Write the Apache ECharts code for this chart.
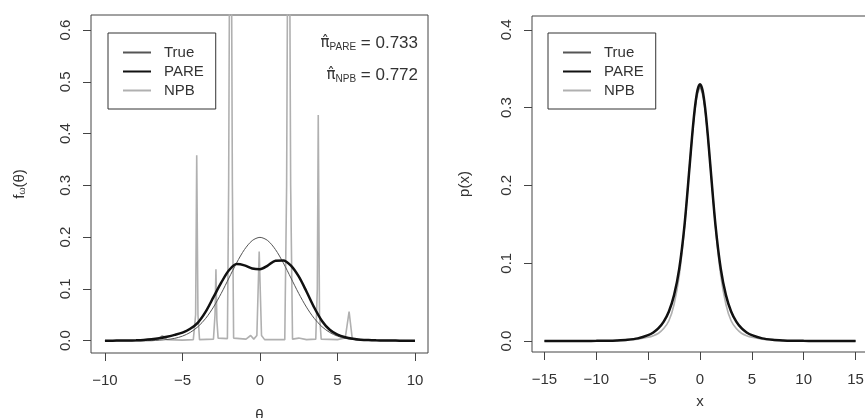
<!DOCTYPE html>
<html>
<head>
<meta charset="utf-8">
<script src="https://cdn.jsdelivr.net/npm/echarts@6/dist/echarts.min.js"></script>
<style>
html,body{margin:0;padding:0;background:#fff;}
#chart{width:865px;height:418px;}
</style>
</head>
<body>
<div id="chart"></div>
<script>
// ---------- Left panel (theta) ----------
const thetaX = [-10,-9.5,-9,-8.5,-8,-7.5,-7,-6.5,-6,-5.5,-5,-4.5,-4,-3.5,-3,-2.5,-2,-1.5,-1,-0.5,0,0.5,1,1.5,2,2.5,3,3.5,4,4.5,5,5.5,6,6.5,7,7.5,8,8.5,9,9.5,10];
const thetaTrue = [0,0,0,0,0.0001,0.0002,0.0004,0.0010,0.0022,0.0045,0.0088,0.0159,0.0270,0.0431,0.0648,0.0913,0.1210,0.1506,0.1760,0.1933,0.1995,0.1933,0.1760,0.1506,0.1210,0.0913,0.0648,0.0431,0.0270,0.0159,0.0088,0.0045,0.0022,0.0010,0.0004,0.0002,0.0001,0,0,0,0];
const thetaPare = [0,0.0001,0.0002,0.0004,0.0008,0.0015,0.0028,0.0048,0.0077,0.0112,0.0155,0.0230,0.0350,0.0560,0.0840,0.1120,0.1360,0.1480,0.1455,0.1395,0.1380,0.1450,0.1545,0.1550,0.1450,0.1240,0.0950,0.0640,0.0380,0.0210,0.0115,0.0065,0.0037,0.0020,0.0011,0.0006,0.0003,0.0002,0.0001,0,0];
const npbThetaX = [-10,-7,-6.6,-6.3,-6.0,-5.0,-4.3,-4.15,-4.08,-4.0,-3.9,-3.0,-2.9,-2.84,-2.78,-2.7,-2.1,-2.02,-1.9,-1.78,-1.7,-0.9,-0.6,-0.4,-0.2,-0.05,0.1,0.3,1.6,1.72,1.85,1.98,2.1,2.5,3.0,3.6,3.7,3.76,3.84,3.95,5.0,5.5,5.75,5.95,6.2,10];
const npbThetaY = [0,0,0.002,0.01,0.002,0.001,0.002,0.05,0.358,0.05,0.002,0.003,0.05,0.138,0.04,0.005,0.004,0.3,1.2,0.3,0.005,0.003,0.01,0.003,0.01,0.172,0.01,0.002,0.002,0.3,1.2,0.3,0.003,0.005,0.002,0.003,0.1,0.436,0.05,0.003,0.002,0.005,0.056,0.005,0.001,0];

// ---------- Right panel (x) ----------
const xsX = [-15,-14,-13,-12,-11,-10,-9,-8,-7,-6,-5,-4.5,-4,-3.5,-3,-2.5,-2,-1.5,-1,-0.75,-0.5,-0.25,0,0.25,0.5,0.75,1,1.5,2,2.5,3,3.5,4,4.5,5,6,7,8,9,10,11,12,13,14,15];
const xsTrue = [0,0,0,0.0001,0.0001,0.0002,0.0004,0.0008,0.0017,0.0035,0.0075,0.0110,0.0165,0.0250,0.0380,0.0590,0.0930,0.1480,0.2240,0.2630,0.2960,0.3180,0.3260,0.3180,0.2960,0.2630,0.2240,0.1480,0.0930,0.0590,0.0380,0.0250,0.0165,0.0110,0.0075,0.0035,0.0017,0.0008,0.0004,0.0002,0.0001,0.0001,0,0,0];
const xsPare = [0,0,0,0.0001,0.0001,0.0002,0.0004,0.0008,0.0016,0.0034,0.0075,0.0110,0.0165,0.0250,0.0380,0.0590,0.0930,0.1480,0.2250,0.2650,0.2990,0.3220,0.3300,0.3220,0.2990,0.2650,0.2250,0.1480,0.0930,0.0590,0.0380,0.0250,0.0165,0.0110,0.0075,0.0034,0.0016,0.0008,0.0004,0.0002,0.0001,0.0001,0,0,0];
const xsNpb = [0,0,0,0,0,0.0001,0.0003,0.0006,0.0012,0.0024,0.0048,0.0068,0.0100,0.0160,0.0260,0.0470,0.0840,0.1460,0.2260,0.2630,0.2950,0.3160,0.3240,0.3160,0.2950,0.2630,0.2260,0.1460,0.0840,0.0470,0.0260,0.0160,0.0100,0.0068,0.0048,0.0024,0.0012,0.0006,0.0003,0.0001,0,0,0,0,0];

// ---------- Tick labels ----------
const thetaTicks = [-10,-5,0,5,10];
const leftYTicks = [0,0.1,0.2,0.3,0.4,0.5,0.6];
const xTicks = [-15,-10,-5,0,5,10,15];
const rightYTicks = [0,0.1,0.2,0.3,0.4];

const zip = (a, b) => a.map((v, i) => [v, b[i]]);
const FONT = 'Liberation Sans, Arial, sans-serif';
const AX = '#444';
const C_TRUE = '#555555', C_PARE = '#111111', C_NPB = '#b0b0b0';

function xAxisCfg(gi, min, max, ticks, name, gap) {
  return {
    type: 'value', gridIndex: gi, min: min, max: max,
    splitLine: {show: false},
    axisLine: {show: false, onZero: false},
    axisTick: {show: true, length: 8, customValues: ticks, lineStyle: {color: AX}},
    axisLabel: {customValues: ticks, margin: 20, fontSize: 15, color: '#333', fontFamily: FONT,
      formatter: v => (v < 0 ? '\u2212' + Math.abs(v) : String(v))},
    name: name, nameLocation: 'middle', nameGap: gap, nameMoveOverlap: false,
    nameTextStyle: {fontSize: 15, color: '#333', fontFamily: FONT}
  };
}
function yAxisCfg(gi, min, max, ticks, name, gap, rich) {
  return {
    type: 'value', gridIndex: gi, min: min, max: max,
    splitLine: {show: false},
    axisLine: {show: false, onZero: false},
    axisTick: {show: true, length: 8, customValues: ticks, lineStyle: {color: AX}},
    axisLabel: {customValues: ticks, rotate: 90, margin: 18, fontSize: 15, color: '#333', fontFamily: FONT,
      formatter: v => v.toFixed(1)},
    name: name, nameLocation: 'middle', nameGap: gap, nameRotate: 90, nameMoveOverlap: false,
    nameTextStyle: {fontSize: 15, color: '#333', fontFamily: FONT, rich: rich}
  };
}
function legendCfg(left) {
  return {
    left: left, top: 33, orient: 'vertical',
    data: ['True', 'PARE', 'NPB'],
    itemWidth: 28, itemHeight: 14, itemGap: 4,
    padding: [12, 12, 11, 14],
    borderColor: '#333', borderWidth: 1, backgroundColor: '#fff',
    itemStyle: {opacity: 0, borderWidth: 0},
    textStyle: {fontSize: 15, color: '#333', fontFamily: FONT, padding: [0, 0, 0, 8]},
    selectedMode: false
  };
}

const chart = echarts.init(document.getElementById('chart'), null, {renderer: 'canvas'});
chart.setOption({
  animation: false,
  backgroundColor: '#fff',
  grid: [
    {left: 91, top: 15, width: 337, height: 338, show: true, borderColor: AX, borderWidth: 1, backgroundColor: 'transparent', outerBoundsMode: 'none', containLabel: false},
    {left: 532, top: 16, width: 336, height: 336, show: true, borderColor: AX, borderWidth: 1, backgroundColor: 'transparent', outerBoundsMode: 'none', containLabel: false}
  ],
  xAxis: [
    xAxisCfg(0, -10.9, 10.84, thetaTicks, '\u03b8', 55),
    xAxisCfg(1, -16.2, 16.2, xTicks, 'x', 42)
  ],
  yAxis: [
    yAxisCfg(0, -0.0238, 0.629, leftYTicks, '{f|f}{s|\u03c9}{f|(\u03b8)}', 64,
      {f: {fontSize: 15, color: '#333', fontFamily: FONT}, s: {fontSize: 9, color: '#333', fontFamily: FONT, verticalAlign: 'bottom', padding: [6, 0, 0, 0]}}),
    yAxisCfg(1, -0.0141, 0.4177, rightYTicks, 'p(x)', 60)
  ],
  legend: [legendCfg(108), legendCfg(548)],
  graphic: [
    {type: 'text', x: 418, y: 43, style: {
      text: '{p|\u03c0\u0302}{s|PARE}{e| = 0.733}', align: 'right', verticalAlign: 'middle',
      rich: {p: {fontSize: 15, fontFamily: 'DejaVu Sans', fill: '#333'}, s: {fontSize: 10, fontFamily: FONT, fill: '#333', verticalAlign: 'bottom', padding: [8, 0, 0, 0]}, e: {fontSize: 17, fontFamily: FONT, fill: '#333'}}}},
    {type: 'text', x: 418, y: 75, style: {
      text: '{p|\u03c0\u0302}{s|NPB}{e| = 0.772}', align: 'right', verticalAlign: 'middle',
      rich: {p: {fontSize: 15, fontFamily: 'DejaVu Sans', fill: '#333'}, s: {fontSize: 10, fontFamily: FONT, fill: '#333', verticalAlign: 'bottom', padding: [8, 0, 0, 0]}, e: {fontSize: 17, fontFamily: FONT, fill: '#333'}}}}
  ],
  series: [
    {name: 'NPB', type: 'line', xAxisIndex: 0, yAxisIndex: 0, data: zip(npbThetaX, npbThetaY), showSymbol: false, symbol: 'none', lineStyle: {color: C_NPB, width: 1.6}, itemStyle: {color: C_NPB}, z: 2},
    {name: 'True', type: 'line', xAxisIndex: 0, yAxisIndex: 0, data: zip(thetaX, thetaTrue), smooth: 0.3, showSymbol: false, symbol: 'none', lineStyle: {color: C_TRUE, width: 1}, itemStyle: {color: C_TRUE}, z: 3},
    {name: 'PARE', type: 'line', xAxisIndex: 0, yAxisIndex: 0, data: zip(thetaX, thetaPare), smooth: 0.3, showSymbol: false, symbol: 'none', lineStyle: {color: C_PARE, width: 2.5}, itemStyle: {color: C_PARE}, z: 4},
    {name: 'NPB', type: 'line', xAxisIndex: 1, yAxisIndex: 1, data: zip(xsX, xsNpb), smooth: 0.3, showSymbol: false, symbol: 'none', lineStyle: {color: C_NPB, width: 1.6}, itemStyle: {color: C_NPB}, z: 2},
    {name: 'True', type: 'line', xAxisIndex: 1, yAxisIndex: 1, data: zip(xsX, xsTrue), smooth: 0.3, showSymbol: false, symbol: 'none', lineStyle: {color: C_TRUE, width: 1}, itemStyle: {color: C_TRUE}, z: 3},
    {name: 'PARE', type: 'line', xAxisIndex: 1, yAxisIndex: 1, data: zip(xsX, xsPare), smooth: 0.3, showSymbol: false, symbol: 'none', lineStyle: {color: C_PARE, width: 2.5}, itemStyle: {color: C_PARE}, z: 4}
  ]
});
</script>
</body>
</html>
